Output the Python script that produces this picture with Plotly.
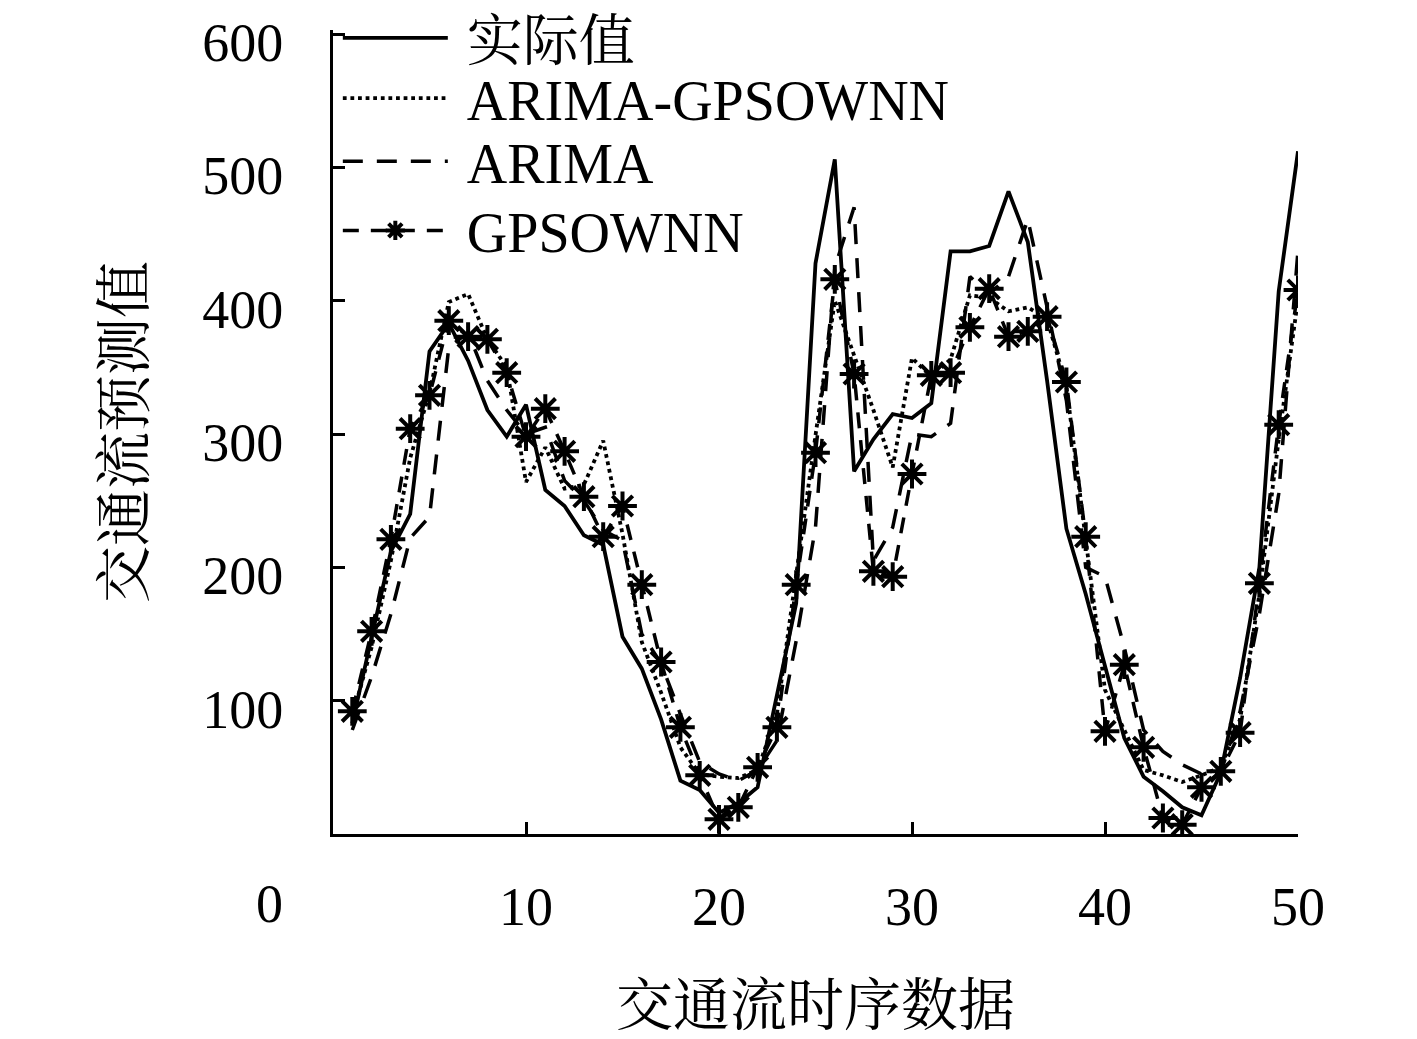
import plotly.graph_objects as go

x = list(range(1, 51))

actual = [83, 146, 212, 240, 362, 383, 355, 318, 298, 322,
          258, 246, 224, 217, 148, 124, 86, 40, 33, 16,
          23, 35, 105, 173, 428, 506, 272, 296, 315, 312,
          323, 437, 437, 441, 482, 444, 340, 229, 180, 125,
          72, 43, 32, 20, 14, 46, 117, 200, 407, 512]

arima_gpsownn = [88, 140, 205, 282, 331, 399, 405, 371, 350, 264,
                 290, 259, 262, 295, 225, 144, 106, 65, 45, 43,
                 42, 48, 90, 196, 299, 400, 360, 318, 275, 357,
                 343, 356, 404, 402, 392, 395, 386, 336, 221, 108,
                 78, 48, 44, 39, 44, 50, 86, 180, 296, 401]

arima = [78, 118, 165, 222, 238, 365, 376, 340, 318, 300,
         305, 265, 250, 228, 220, 150, 128, 90, 54, 45,
         40, 48, 70, 145, 230, 425, 470, 205, 230, 300,
         298, 308, 418, 405, 418, 461, 395, 325, 200, 193,
         140, 78, 62, 52, 45, 46, 92, 165, 255, 438]

gpsownn = [92, 152, 221, 304, 329, 385, 373, 371, 346, 298,
           319, 287, 253, 223, 246, 187, 129, 80, 44, 11,
           20, 50, 80, 187, 286, 416, 345, 197, 193, 270,
           344, 346, 380, 409, 373, 377, 388, 339, 223, 77,
           127, 65, 12, 7, 35, 47, 76, 188, 307, 408]

serif = "Liberation Serif, 'Noto Serif CJK SC', 'Noto Sans CJK SC', serif"
pad = "\u00a0"

fig = go.Figure()
fig.add_trace(go.Scatter(x=x, y=actual, name=pad + "实际值", mode="lines",
                         line=dict(color="black", width=3.8), legend="legend"))
fig.add_trace(go.Scatter(x=x, y=arima_gpsownn, name=pad + "ARIMA-GPSOWNN", mode="lines",
                         line=dict(color="black", width=3.8, dash="dot"), legend="legend2"))
fig.add_trace(go.Scatter(x=x, y=arima, name=pad + "ARIMA", mode="lines",
                         line=dict(color="black", width=3.5, dash="20px,14px"), legend="legend3"))
fig.add_trace(go.Scatter(x=x, y=gpsownn, name=pad + "GPSOWNN", mode="lines+markers",
                         line=dict(color="black", width=3.5, dash="16px,12px"),
                         marker=dict(symbol="asterisk-open", size=24,
                                     line=dict(color="black", width=4)),
                         legend="legend4"))

def leg(ycenter):
    return dict(x=0.005, y=(834 - ycenter) / 802, xanchor="left", yanchor="middle",
                bgcolor="rgba(0,0,0,0)", itemwidth=105,
                font=dict(size=56, family=serif))

fig.update_layout(
    width=1417, height=1039, autosize=False,
    paper_bgcolor="white", plot_bgcolor="white",
    margin=dict(l=325, r=127, t=22, b=213, autoexpand=False),
    font=dict(family=serif, size=54, color="black"),
    showlegend=True,
    legend=leg(40), legend2=leg(100), legend3=leg(163), legend4=leg(232),
    xaxis=dict(range=[0, 50], tickvals=[10, 20, 30, 40, 50],
               ticks="inside", ticklen=12, tickwidth=3, tickcolor="black",
               showline=True, linewidth=3, linecolor="black",
               showgrid=False, zeroline=False, ticklabelstandoff=23,
               ticklabeloverflow="allow",
               title=dict(text="交通流时序数据", font=dict(size=57), standoff=50)),
    yaxis=dict(range=[0, 603], tickvals=[100, 200, 300, 400, 500, 600],
               ticks="inside", ticklen=12, tickwidth=3, tickcolor="black",
               showline=True, linewidth=3, linecolor="black",
               showgrid=False, zeroline=False, ticklabelstandoff=36,
               ticklabelshift=8, ticklabeloverflow="allow",
               title=dict(text="交通流预测值", font=dict(size=57), standoff=40)),
    annotations=[dict(text="0", xref="paper", yref="paper",
                      x=(268 - 332) / 965, y=-(905 - 834) / 812,
                      xanchor="center", yanchor="middle", showarrow=False,
                      font=dict(size=54, family=serif))],
)

fig.write_html("out.html")
